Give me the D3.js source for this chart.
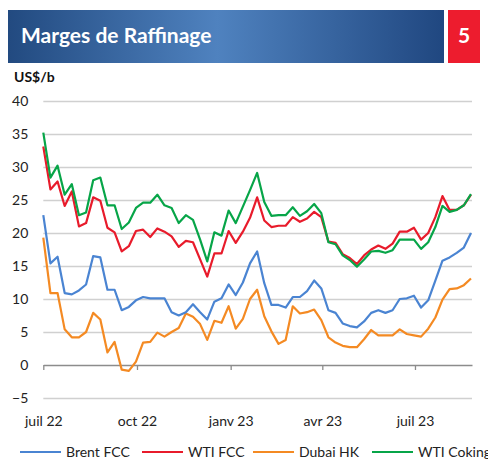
<!DOCTYPE html>
<html>
<head>
<meta charset="utf-8">
<script src="https://d3js.org/d3.v7.min.js"></script>
<style>
    body { margin: 0; background: #fff; }
    svg { display: block; font-family: Lato, "Open Sans", sans-serif; }
</style>
</head>
<body>
<svg id="chart" width="488" height="476"></svg>
<script>
// weekly points, first one on 1 july 2022
const start_date = new Date(2022, 6, 1);
const n_weeks = 61;
const dates = d3.range(n_weeks).map(i => d3.timeDay.offset(start_date, 7 * i));

const series_names = ['Brent FCC', 'WTI FCC', 'Dubai HK', 'WTI Coking'];

const brent_fcc = [22.7, 15.4, 16.4, 10.9, 10.7, 11.3, 12.2, 16.5, 16.3, 11.4,
    11.4, 8.3, 8.8, 9.8, 10.3, 10.1, 10.1, 10.1, 8.0, 7.5,
    8.0, 9.2, 8.0, 6.9, 9.6, 10.1, 12.2, 10.6, 12.5, 15.4,
    17.2, 12.4, 9.1, 9.1, 8.7, 10.3, 10.3, 11.2, 12.8, 11.6,
    8.3, 7.9, 6.3, 5.9, 5.7, 6.6, 7.9, 8.3, 7.9, 8.3,
    10.0, 10.1, 10.5, 8.7, 9.8, 12.8, 15.8, 16.3, 17.0, 17.8,
    20.0];
const wti_fcc = [33.1, 26.6, 27.8, 24.1, 26.3, 21.0, 21.5, 25.4, 24.9, 20.8,
    20.1, 17.2, 18.0, 20.3, 20.5, 19.4, 20.7, 20.2, 19.5, 17.9,
    18.8, 18.6, 16.0, 13.4, 16.9, 16.9, 20.3, 18.5, 20.2, 22.3,
    25.4, 21.9, 20.9, 21.1, 21.1, 22.4, 21.7, 22.2, 23.2, 22.4,
    18.7, 18.5, 16.8, 16.2, 15.3, 16.6, 17.5, 18.1, 17.6, 18.4,
    20.2, 20.2, 20.8, 19.0, 20.0, 22.4, 25.6, 23.5, 23.5, 24.2,
    25.8];
const dubai_hk = [19.3, 10.9, 10.9, 5.4, 4.2, 4.2, 5.0, 7.9, 6.9, 1.9,
    3.5, -0.7, -0.9, 0.5, 3.4, 3.5, 4.9, 4.3, 5.0, 5.6,
    7.8, 7.3, 6.2, 3.8, 6.7, 6.4, 8.9, 5.5, 7.0, 10.0,
    11.4, 7.4, 5.1, 3.2, 3.8, 8.9, 7.8, 8.0, 8.4, 6.8,
    4.2, 3.4, 2.9, 2.7, 2.7, 3.9, 5.3, 4.5, 4.5, 4.5,
    5.4, 4.7, 4.5, 4.3, 5.5, 7.2, 9.9, 11.5, 11.6, 12.1,
    13.1];
const wti_coking = [35.2, 28.4, 30.2, 25.8, 27.4, 22.7, 23.1, 28.0, 28.4, 24.2,
    24.2, 20.6, 21.6, 23.8, 24.6, 24.6, 25.8, 24.2, 23.8, 21.5,
    22.7, 22.0, 19.0, 15.7, 20.1, 19.6, 23.4, 21.5, 24.0, 26.5,
    29.1, 24.7, 22.6, 22.7, 22.7, 23.9, 22.6, 23.3, 24.4, 23.0,
    18.6, 18.3, 16.6, 15.9, 14.9, 16.0, 17.2, 17.3, 17.0, 17.4,
    19.0, 19.0, 19.0, 17.6, 18.6, 20.9, 24.1, 23.2, 23.5, 24.2,
    25.9];

const y_ticks = [-5, 0, 5, 10, 15, 20, 25, 30, 35, 40];
const x_tick_dates = [new Date(2022, 6, 1), new Date(2022, 9, 1), new Date(2023, 0, 1),
    new Date(2023, 3, 1), new Date(2023, 6, 1)];
const x_tick_labels = ['juil 22', 'oct 22', 'janv 23', 'avr 23', 'juil 23'];

const colors = ['#4a84d2', '#e81b2b', '#f48a23', '#07a548'];

const config = {
    left: 43.3,
    right: 472,
    top: 101,
    bottom: 398,
    line_width: 2.2,
};

let svg = d3.select('svg#chart');

// header banner with gradient
const defs = svg.append('defs');
const grad = defs.append('linearGradient').attr('id', 'banner')
    .attr('x1', '0%').attr('x2', '100%');
grad.append('stop').attr('offset', '0%').attr('stop-color', '#224a80');
grad.append('stop').attr('offset', '48%').attr('stop-color', '#4f82bf');
grad.append('stop').attr('offset', '100%').attr('stop-color', '#204780');

svg.append('rect').attr('x', 8).attr('y', 10).attr('width', 436).attr('height', 53)
    .attr('fill', 'url(#banner)');
svg.append('text').attr('x', 21).attr('y', 43)
    .attr('fill', '#fff').attr('font-size', 21).attr('font-weight', 'bold')
    .text('Marges de Raffinage');

svg.append('rect').attr('x', 448).attr('y', 10).attr('width', 32).attr('height', 53)
    .attr('fill', '#ed1c2e');
svg.append('text').attr('x', 464).attr('y', 43).attr('text-anchor', 'middle')
    .attr('fill', '#fff').attr('font-size', 21).attr('font-weight', 'bold')
    .text('5');

svg.append('text').attr('x', 14).attr('y', 82)
    .attr('fill', '#111').attr('font-size', 14).attr('font-weight', 'bold')
    .text('US$/b');

// scales
const x = d3.scaleTime()
    .domain([start_date, new Date(2023, 7, 26)])
    .range([config.left, config.right]);
const y = d3.scaleLinear()
    .domain([-5, 40])
    .range([config.bottom, config.top]);

// y axis: gridlines + labels
const yaxis = svg.append('g').attr('id', 'chart_y')
    .attr('transform', 'translate(' + config.left + ',0)')
    .call(d3.axisLeft(y).tickValues(y_ticks)
        .tickSize(-(config.right - config.left)).tickPadding(15));
yaxis.select('.domain').remove();
yaxis.selectAll('.tick line')
    .attr('stroke', '#d0d0d0').attr('stroke-width', 1.3)
    .filter(d => d === 0).remove();
yaxis.selectAll('.tick text')
    .attr('font-family', 'Lato, sans-serif').attr('font-size', 14).attr('fill', '#222');

// x axis on the zero line
const xaxis = svg.append('g').attr('id', 'chart_x')
    .attr('transform', 'translate(0,' + y(0) + ')')
    .call(d3.axisBottom(x).tickValues(x_tick_dates)
        .tickFormat((d, i) => x_tick_labels[i]).tickSize(5).tickSizeOuter(0));
xaxis.select('.domain').attr('stroke', '#8c8c8c').attr('stroke-width', 1.3);
xaxis.selectAll('.tick line').attr('stroke', '#8c8c8c').attr('stroke-width', 1.3);
xaxis.selectAll('.tick text')
    .attr('font-family', 'Lato, sans-serif').attr('font-size', 14).attr('fill', '#222')
    .attr('y', 0).attr('dy', null)
    .attr('transform', 'translate(0,' + (426 - y(0)) + ')');

// lines
const all_series = [brent_fcc, wti_fcc, dubai_hk, wti_coking];
const line = d3.line()
    .x((d, i) => x(dates[i]))
    .y(d => y(d));

const canvas = svg.append('g').attr('id', 'chart_canvas');
// draw order: orange, blue, red, green on top
[2, 0, 1, 3].forEach(k => {
    canvas.append('path')
        .datum(all_series[k])
        .attr('fill', 'none')
        .attr('stroke', colors[k])
        .attr('stroke-width', config.line_width)
        .attr('stroke-linejoin', 'round')
        .attr('d', line);
});

// legend
const legend_x = [20, 142, 253, 372];
const legend = svg.append('g').attr('id', 'legend');
series_names.forEach((name, k) => {
    legend.append('line')
        .attr('x1', legend_x[k]).attr('x2', legend_x[k] + 41)
        .attr('y1', 452).attr('y2', 452)
        .attr('stroke', colors[k]).attr('stroke-width', config.line_width);
    legend.append('text')
        .attr('x', legend_x[k] + 46).attr('y', 457)
        .attr('font-size', 14).attr('fill', '#222')
        .text(name);
});
</script>
</body>
</html>
